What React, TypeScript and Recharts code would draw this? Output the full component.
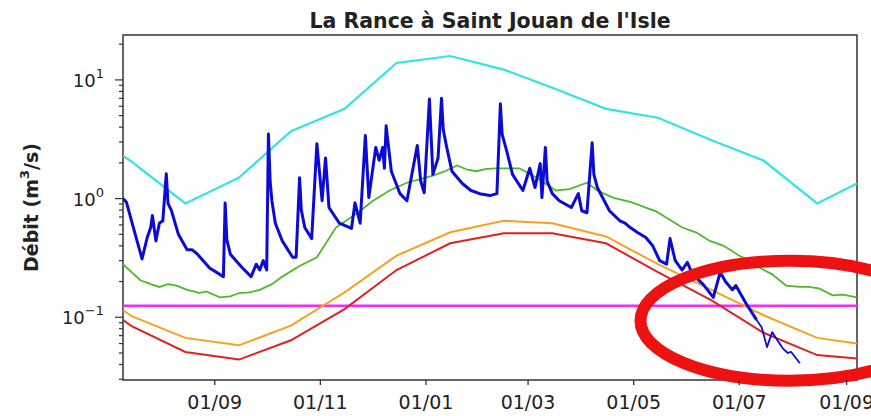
import { LineChart, Line, XAxis, YAxis, ReferenceLine, ReferenceArea, ReferenceDot } from "recharts";

const FONT = "'DejaVu Sans', sans-serif";
const INK = "#222";
const SPINE = "#333";

// débit observé (m3/s), trait épais
const obsDates = [
  "2021-07-10","2021-07-12","2021-07-16","2021-07-21","2021-07-24","2021-07-26","2021-07-27","2021-07-29","2021-07-31","2021-08-02",
  "2021-08-04","2021-08-05","2021-08-07","2021-08-11","2021-08-16","2021-08-19","2021-08-22","2021-08-29","2021-09-06","2021-09-07",
  "2021-09-08","2021-09-10","2021-09-17","2021-09-22","2021-09-25","2021-09-27","2021-09-29","2021-10-01","2021-10-02","2021-10-03",
  "2021-10-04","2021-10-06","2021-10-10","2021-10-16","2021-10-18","2021-10-20","2021-10-21","2021-10-23","2021-10-27","2021-10-30",
  "2021-11-02","2021-11-04","2021-11-06","2021-11-12","2021-11-19","2021-11-21","2021-11-24","2021-11-27","2021-11-29","2021-12-03",
  "2021-12-05","2021-12-07","2021-12-08","2021-12-09","2021-12-12","2021-12-17","2021-12-21","2021-12-27","2021-12-29","2021-12-31",
  "2022-01-03","2022-01-05","2022-01-08","2022-01-10","2022-01-11","2022-01-13","2022-01-16","2022-01-22","2022-01-27","2022-02-01",
  "2022-02-07","2022-02-11","2022-02-13","2022-02-14","2022-02-17","2022-02-20","2022-02-26","2022-03-02","2022-03-05","2022-03-08",
  "2022-03-09","2022-03-11","2022-03-12","2022-03-15","2022-03-19","2022-03-26","2022-03-30","2022-04-01","2022-04-04","2022-04-07",
  "2022-04-08","2022-04-10","2022-04-17","2022-04-23","2022-04-26","2022-04-29","2022-05-03","2022-05-08","2022-05-12","2022-05-16",
  "2022-05-20","2022-05-22","2022-05-25","2022-05-29","2022-06-01","2022-06-04","2022-06-10","2022-06-16","2022-06-20","2022-06-23",
  "2022-06-27","2022-06-29","2022-07-05","2022-07-11",
];
const obsFlow = [
  1.0, 0.93, 0.57, 0.31, 0.47, 0.57, 0.72, 0.44, 0.62, 0.65,
  1.62, 0.91, 0.79, 0.5, 0.37, 0.37, 0.34, 0.26, 0.22, 0.92,
  0.45, 0.34, 0.26, 0.22, 0.28, 0.25, 0.30, 0.25, 3.5, 1.4,
  0.96, 0.62, 0.44, 0.32, 0.32, 1.5, 0.8, 0.57, 0.46, 2.9,
  0.96, 2.2, 0.84, 0.62, 0.56, 0.92, 0.62, 3.4, 1.02, 2.7,
  2.1, 2.7, 1.8, 4.1, 1.7, 1.1, 0.96, 2.8, 1.4, 1.12,
  6.9, 1.6, 2.2, 7.0, 3.8, 2.7, 1.7, 1.34, 1.17, 1.1,
  1.06, 1.1, 6.3, 3.5, 2.4, 1.6, 1.17, 1.8, 1.24, 1.97,
  1.02, 2.7, 1.4, 1.1, 0.96, 0.84, 1.1, 0.79, 0.76, 2.95,
  1.6, 1.24, 0.79, 0.65, 0.62, 0.57, 0.52, 0.47, 0.4, 0.30,
  0.28, 0.46, 0.30, 0.25, 0.29, 0.23, 0.19, 0.147, 0.24, 0.20,
  0.17, 0.185, 0.13, 0.095,
];

// fin de la chronique, trait fin
const tailDates = ["2022-07-11","2022-07-14","2022-07-17","2022-07-20","2022-07-23","2022-07-26","2022-07-29","2022-07-31","2022-08-05"];
const tailFlow = [0.095, 0.082, 0.056, 0.075, 0.064, 0.055, 0.050, 0.051, 0.041];

// valeurs mensuelles (mi-mois)
const statDates = [
  "2021-07-10","2021-07-15","2021-08-15","2021-09-15","2021-10-15","2021-11-15","2021-12-15","2022-01-15",
  "2022-02-15","2022-03-15","2022-04-15","2022-05-15","2022-06-15","2022-07-15","2022-08-15","2022-09-07",
];
const maxFlow = [2.3, 2.05, 0.91, 1.5, 3.7, 5.7, 13.9, 15.9, 12.2, 8.6, 5.7, 4.8, 3.1, 2.09, 0.91, 1.34];
const dryFlow = [0.115, 0.102, 0.067, 0.058, 0.085, 0.162, 0.33, 0.52, 0.65, 0.62, 0.48, 0.28, 0.17, 0.104, 0.067, 0.06];
const veryDryFlow = [0.095, 0.084, 0.051, 0.044, 0.064, 0.117, 0.25, 0.42, 0.51, 0.51, 0.42, 0.24, 0.139, 0.074, 0.048, 0.045];

// médiane journalière
const medDates = [
  "2021-07-10","2021-07-20","2021-07-26","2021-07-31","2021-08-05","2021-08-10","2021-08-16","2021-08-20","2021-08-23","2021-08-27",
  "2021-09-04","2021-09-10","2021-09-15","2021-09-21","2021-09-27","2021-10-04","2021-10-10","2021-10-20","2021-10-30","2021-11-10",
  "2021-11-22","2021-12-01","2021-12-11","2021-12-21","2022-01-05","2022-01-12","2022-01-19","2022-01-25","2022-01-30","2022-02-05",
  "2022-02-11","2022-02-24","2022-03-06","2022-03-17","2022-03-25","2022-04-04","2022-04-10","2022-04-19","2022-04-30","2022-05-08",
  "2022-05-14","2022-05-20","2022-05-29","2022-06-06","2022-06-14","2022-06-22","2022-07-01","2022-07-07","2022-07-13","2022-07-20",
  "2022-07-28","2022-08-05","2022-08-10","2022-08-16","2022-08-24","2022-08-30","2022-09-07",
];
const medFlow = [
  0.28, 0.205, 0.19, 0.18, 0.19, 0.185, 0.17, 0.165, 0.16, 0.165,
  0.147, 0.15, 0.16, 0.162, 0.17, 0.19, 0.22, 0.27, 0.32, 0.57,
  0.75, 0.95, 1.17, 1.36, 1.56, 1.7, 1.9, 1.75, 1.7, 1.78,
  1.8, 1.8, 1.5, 1.17, 1.2, 1.36, 1.17, 1.02, 0.93, 0.84,
  0.78, 0.69, 0.57, 0.52, 0.44, 0.4, 0.33, 0.3, 0.26, 0.23,
  0.185, 0.18, 0.18, 0.175, 0.153, 0.155, 0.147,
];

const thresholdFlow = 0.125;

const xTickDates = ["2021-09-01","2021-11-01","2022-01-01","2022-03-01","2022-05-01","2022-07-01","2022-09-01"];
const yTicks = [0.03,0.04,0.05,0.06,0.07,0.08,0.09,0.1,0.2,0.3,0.4,0.5,0.6,0.7,0.8,0.9,1,2,3,4,5,6,7,8,9,10,20];
const xStart = "2021-07-10";
const xEnd = "2022-09-07";
const yMin = 0.0296;
const yMax = 23.9;

// entourage rouge
const ringDate = "2022-07-30";
const ringFlow = 0.0935;

const dayNum = (s: string) =>
  Math.round(Date.UTC(+s.slice(0, 4), +s.slice(5, 7) - 1, +s.slice(8, 10)) / 86400000);
const zip = (dates: string[], vals: number[]) => dates.map((d, i) => ({ t: dayNum(d), q: vals[i] }));

function fmtDay(t: number): string {
  const d = new Date(t * 86400000);
  return `${String(d.getUTCDate()).padStart(2, "0")}/${String(d.getUTCMonth() + 1).padStart(2, "0")}`;
}

function XTick({ x, y, payload }: any) {
  return (
    <g>
      <line x1={x} x2={x} y1={y} y2={y + 5} stroke={SPINE} strokeWidth={1.3} />
      <text x={x} y={y + 29} textAnchor="middle" fontSize={19} fill={INK} fontFamily={FONT}>
        {fmtDay(payload.value)}
      </text>
    </g>
  );
}

function YTick({ x, y, payload }: any) {
  const v = payload.value as number;
  const exp = Math.round(Math.log10(v));
  const major = Math.abs(v - Math.pow(10, exp)) < 1e-9;
  return (
    <g>
      <line x1={x - (major ? 8 : 4)} x2={x} y1={y} y2={y} stroke={SPINE} strokeWidth={1.2} />
      {major && (
        <text x={x - 19} y={y + 7} textAnchor="end" fontSize={18} fill={INK} fontFamily={FONT}>
          10<tspan dy={-9} fontSize={13}>{exp < 0 ? `\u2212${-exp}` : exp}</tspan>
        </text>
      )}
    </g>
  );
}

function YLabel({ viewBox }: any) {
  const cx = viewBox.x + 31;
  const cy = viewBox.y + viewBox.height / 2;
  return (
    <text x={cx} y={cy} transform={`rotate(-90 ${cx} ${cy})`} textAnchor="middle" dominantBaseline="central"
      fontSize={19} fontWeight="bold" fill={INK} fontFamily={FONT}>
      Débit (m<tspan dy={-7} fontSize={13}>3</tspan><tspan dy={7}>/s)</tspan>
    </text>
  );
}

const obs = zip(obsDates, obsFlow);
const tail = zip(tailDates, tailFlow);
const maxS = zip(statDates, maxFlow);
const dryS = zip(statDates, dryFlow);
const veryDryS = zip(statDates, veryDryFlow);
const medS = zip(medDates, medFlow);

export default function App() {
  return (
    <div style={{ position: "absolute", left: 0, top: 0, width: 871, height: 416, background: "#fff", fontFamily: FONT }}>
      <svg width={871} height={40} style={{ position: "absolute", left: 0, top: 0 }}>
        <text x={490} y={28} textAnchor="middle" fontSize={20.5} fontWeight="bold" fill={INK} fontFamily={FONT}>
          La Rance à Saint Jouan de l'Isle
        </text>
      </svg>
      <div style={{ position: "absolute", left: 0, top: 0 }}>
        <LineChart width={871} height={416} margin={{ top: 35, right: 14, bottom: 0, left: 0 }}>
          <XAxis
            dataKey="t"
            type="number"
            domain={[dayNum(xStart), dayNum(xEnd)]}
            allowDataOverflow
            ticks={xTickDates.map(dayNum)}
            interval={0}
            height={36}
            tickSize={0}
            tickMargin={0}
            tickLine={false}
            axisLine={false}
            tick={<XTick />}
          />
          <YAxis
            dataKey="q"
            type="number"
            scale="log"
            domain={[yMin, yMax]}
            allowDataOverflow
            ticks={yTicks}
            interval={0}
            width={123}
            tickSize={0}
            tickMargin={0}
            tickLine={false}
            axisLine={false}
            tick={<YTick />}
            label={{ content: <YLabel /> }}
          />
          <ReferenceLine y={thresholdFlow} stroke="#f22cf2" strokeWidth={2.6} ifOverflow="visible" />
          <Line data={maxS} dataKey="q" type="linear" stroke="#33e3e3" strokeWidth={2.2} dot={false} isAnimationActive={false} />
          <Line data={medS} dataKey="q" type="linear" stroke="#4cba2a" strokeWidth={1.8} dot={false} isAnimationActive={false} />
          <Line data={dryS} dataKey="q" type="linear" stroke="#f7a21e" strokeWidth={2} dot={false} isAnimationActive={false} />
          <Line data={veryDryS} dataKey="q" type="linear" stroke="#dd2222" strokeWidth={2} dot={false} isAnimationActive={false} />
          <Line data={obs} dataKey="q" type="linear" stroke="#0b0bd4" strokeWidth={3} strokeLinejoin="round" dot={false} isAnimationActive={false} />
          <Line data={tail} dataKey="q" type="linear" stroke="#0b0bd4" strokeWidth={1.8} strokeLinejoin="round" dot={false} isAnimationActive={false} />
          <ReferenceArea x1={dayNum(xStart)} x2={dayNum(xEnd)} y1={yMin} y2={yMax} fill="none" fillOpacity={0}
            stroke={SPINE} strokeWidth={1.5} ifOverflow="visible" />
          <ReferenceDot
            x={dayNum(ringDate)}
            y={ringFlow}
            ifOverflow="visible"
            shape={(p: any) => (
              <ellipse cx={p.cx} cy={p.cy} rx={149} ry={60} fill="none" stroke="#ee1111" strokeWidth={12} />
            )}
          />
        </LineChart>
      </div>
    </div>
  );
}
